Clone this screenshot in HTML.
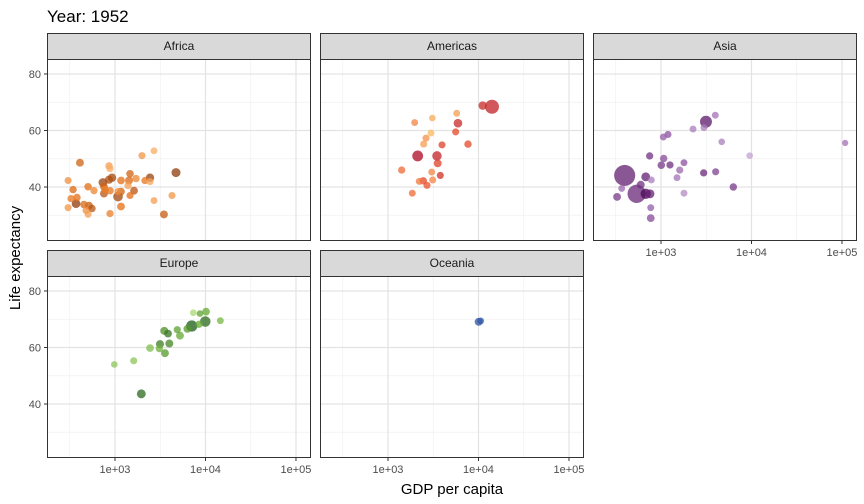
<!DOCTYPE html>
<html><head><meta charset="utf-8">
<style>
body{margin:0;background:#fff;font-family:"Liberation Sans",sans-serif;}
svg{display:block}
</style></head>
<body>
<svg id="chart" width="864" height="504" xmlns="http://www.w3.org/2000/svg">
<text x="47" y="22" font-size="17" fill="#000">Year: 1952</text>
<text x="452" y="494" font-size="15" text-anchor="middle" fill="#000">GDP per capita</text>
<text x="0" y="0" font-size="15" text-anchor="middle" fill="#000" transform="translate(20,258) rotate(-90)">Life expectancy</text>
</svg>
<script>
// ---- data (1952) ----
const africaGdp=[410,859,881,1987,2698,4721,303,344,504,586,736,755,859,927,776,755,881,1080,1165,1428,1465,1708,1393,1623,1465,1080,1165,2143,2436,2436,327,380,371,454,516,479,557,504,303,881,1165,2698,4266,3475];
const africaLife=[48.6,47.5,46.5,51.1,52.8,45.1,42.3,39.1,40.1,38.7,41.6,40.1,42.6,43.3,39.1,37.7,38.7,38.4,42.3,42.3,44.7,43.0,40.5,38.7,37.0,36.6,38.4,42.3,43.3,41.9,35.9,36.3,34.1,33.8,33.4,31.7,32.4,30.3,32.7,30.6,33.1,35.2,37.0,30.3];
const africaPop=[9,5,4,3,2,22,3,5,6,4,20,8,12,15,6,9,5,3,7,10,6,5,4,8,3,33,7,4,14,3,4,5,18,6,9,3,5,2,3,4,8,2,3,9];
const africaShade=[0.6,0.2,0.1,0.25,0.1,0.9,0.3,0.55,0.5,0.35,0.85,0.6,0.75,0.8,0.4,0.7,0.45,0.3,0.5,0.55,0.6,0.35,0.2,0.7,0.5,0.8,0.6,0.45,0.85,0.15,0.45,0.5,0.9,0.55,0.65,0.3,0.7,0.2,0.25,0.4,0.5,0.2,0.25,0.65];
const amerGdp=[11120,14090,5745,1972,3090,5930,5597,2985,2632,2479,3954,7660,2128,3477,3540,1417,3042,3784,2219,2453,3120,2698,1856];
const amerLife=[68.8,68.4,66.1,62.8,64.4,62.6,59.5,59.1,57.3,55.2,54.9,55.2,51.0,51.0,48.4,46.0,45.3,44.1,42.0,42.2,42.5,40.6,37.8];
const amerPop=[14,157,2,2,1,17,3,2,3,3,3,5,57,30,9,4,2,3,3,5,3,3,2];
const amerShade=[0.75,0.8,0.2,0.3,0.15,0.75,0.55,0.1,0.25,0.2,0.6,0.55,0.95,0.8,0.6,0.4,0.3,0.7,0.35,0.55,0.3,0.5,0.4];
const asiaGdp=[3141,3983,2259,2985,1194,1060,4690,9550,750,1071,1008,1257,1795,1611,1503,2963,4020,397,678,782,597,368,327,539,678,756,1795,6300,770,770,108382];
const asiaLife=[63.1,65.4,60.5,61.0,58.6,57.7,56.0,51.1,51.0,50.1,47.7,47.8,48.6,46.0,43.3,45.0,45.4,44.1,43.6,42.5,40.8,39.5,36.5,37.6,37.6,37.6,37.8,40.0,32.7,29.0,55.6];
const asiaPop=[86,2,2,2,3,2,1,1,4,5,6,4,2,3,2,4,3,556,20,2,9,2,8,372,46,20,2,5,2,8,0.2];
const asiaShade=[0.85,0.35,0.3,0.3,0.5,0.45,0.3,0.15,0.7,0.55,0.65,0.7,0.5,0.4,0.35,0.75,0.6,0.8,0.8,0.3,0.7,0.4,0.65,0.75,0.95,0.8,0.25,0.65,0.45,0.55,0.35];
const euroGdp=[983,1611,1953,2437,3141,3090,3565,3983,3506,3855,4876,5224,6300,7050,8480,9950,8690,10140,7330,14590];
const euroLife=[54.0,55.3,43.6,59.8,61.2,59.6,58.0,61.4,65.9,64.9,66.3,64.2,66.6,67.6,68.2,69.2,72.0,72.7,72.3,69.5];
const euroPop=[1,3,21,7,10,4,9,10,10,8,3,9,7,69,4,50,1,7,1,2];
const euroShade=[0.3,0.3,0.85,0.35,0.75,0.45,0.6,0.7,0.65,0.8,0.55,0.5,0.6,0.95,0.5,0.85,0.55,0.5,0.15,0.4];
const oceGdp=[10040,10557];
const oceLife=[69.1,69.4];
const ocePop=[9,2];
const oceShade=[0.7,0.6];
const xTicks=[1000,10000,100000];
const xTickLabels=["1e+03","1e+04","1e+05"];
const yTicks=[40,60,80];

const NS="http://www.w3.org/2000/svg";
const svg=document.getElementById('chart');
function mk(tag,attrs,parent){const e=document.createElementNS(NS,tag);for(const k in attrs)e.setAttribute(k,attrs[k]);(parent||svg).appendChild(e);return e;}
const LG0=2.2486,LG1=5.166,Y0=20.9,Y1=85.3,PW=264,PH=182;
function lerp(a,b,t){return Math.round(a+(b-a)*t);}
function ramp(c0,cm,c1,t){let a,b,u;if(t<0.5){a=c0;b=cm;u=t*2;}else{a=cm;b=c1;u=(t-0.5)*2;}
 return `rgb(${lerp(a[0],b[0],u)},${lerp(a[1],b[1],u)},${lerp(a[2],b[2],u)})`;}
const panels=[
 {name:"Africa",px:47,py:59,gdp:africaGdp,life:africaLife,pop:africaPop,shade:africaShade,c0:[253,190,120],cm:[230,110,20],c1:[120,45,10],xl:false,yl:true},
 {name:"Americas",px:320,py:59,gdp:amerGdp,life:amerLife,pop:amerPop,shade:amerShade,c0:[254,210,110],cm:[235,80,40],c1:[165,0,38],xl:false,yl:false},
 {name:"Asia",px:593,py:59,gdp:asiaGdp,life:asiaLife,pop:asiaPop,shade:asiaShade,c0:[215,195,230],cm:[140,80,160],c1:[70,0,80],xl:true,yl:false},
 {name:"Europe",px:47,py:276,gdp:euroGdp,life:euroLife,pop:euroPop,shade:euroShade,c0:[200,235,140],cm:[100,170,50],c1:[20,80,20],xl:true,yl:true},
 {name:"Oceania",px:320,py:276,gdp:oceGdp,life:oceLife,pop:ocePop,shade:oceShade,c0:[60,100,175],cm:[50,90,165],c1:[40,80,160],xl:true,yl:false}
];
panels.forEach(p=>{
 const key=p.name.toLowerCase();
 const g=mk('g',{});
 
 
 const sx=v=>p.px+(Math.log10(v)-LG0)/(LG1-LG0)*PW;
 const sy=v=>p.py+PH-(v-Y0)/(Y1-Y0)*PH;
 mk('rect',{x:p.px,y:p.py,width:PW,height:PH,fill:'#fff'},g);
 [2.5,3.5,4.5].forEach(l=>{const x=sx(Math.pow(10,l));mk('line',{x1:x,x2:x,y1:p.py,y2:p.py+PH,stroke:'#f0f0f0','stroke-width':0.7},g);});
 [30,50,70].forEach(v=>{const y=sy(v);mk('line',{x1:p.px,x2:p.px+PW,y1:y,y2:y,stroke:'#f0f0f0','stroke-width':0.7},g);});
 xTicks.forEach(v=>{const x=sx(v);mk('line',{x1:x,x2:x,y1:p.py,y2:p.py+PH,stroke:'#e3e3e3','stroke-width':1.2},g);});
 yTicks.forEach(v=>{const y=sy(v);mk('line',{x1:p.px,x2:p.px+PW,y1:y,y2:y,stroke:'#e3e3e3','stroke-width':1.2},g);});
 const idx=p.gdp.map((_,i)=>i).sort((a,b)=>p.pop[b]-p.pop[a]);
 idx.forEach(i=>{
  const c=mk('circle',{cx:sx(p.gdp[i]),cy:sy(p.life[i]),r:3+0.32*Math.sqrt(p.pop[i]),fill:ramp(p.c0,p.cm,p.c1,p.shade[i]),'fill-opacity':0.75},g);
  
  
 });
 mk('rect',{x:p.px+0.5,y:p.py+0.5,width:PW-1,height:PH-1,fill:'none',stroke:'#333','stroke-width':1},g);
 const st=mk('rect',{x:p.px+0.5,y:p.py-26+0.5,width:PW-1,height:26,fill:'#d9d9d9',stroke:'#333','stroke-width':1},g);
 
 
 const t=mk('text',{x:p.px+PW/2,y:p.py-9,'font-size':12,'text-anchor':'middle',fill:'#1a1a1a'},g);
 t.textContent=p.name;
 
 
 if(p.yl){yTicks.forEach(v=>{const y=sy(v);mk('line',{x1:p.px-3,x2:p.px,y1:y,y2:y,stroke:'#333'},g);
  const tt=mk('text',{x:p.px-6,y:y+4,'font-size':11,'text-anchor':'end',fill:'#4d4d4d'},g);tt.textContent=v;
  
  });}
 if(p.xl){xTicks.forEach((v,k)=>{const x=sx(v);mk('line',{x1:x,x2:x,y1:p.py+PH,y2:p.py+PH+3,stroke:'#333'},g);
  const tt=mk('text',{x:x,y:p.py+PH+15,'font-size':11,'text-anchor':'middle',fill:'#4d4d4d'},g);tt.textContent=xTickLabels[k];
  
  });}
});
</script>
</body></html>
